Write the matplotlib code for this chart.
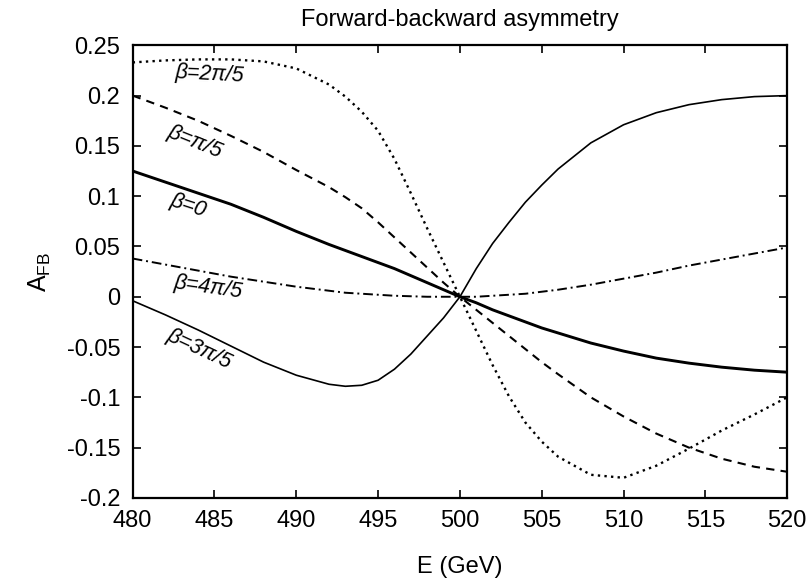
import numpy as np
import matplotlib
matplotlib.use('Agg')
import matplotlib.pyplot as plt

plt.rcParams['font.family'] = ['Liberation Sans', 'DejaVu Sans']
plt.rcParams['mathtext.fontset'] = 'custom'
plt.rcParams['mathtext.rm'] = 'Liberation Sans'
plt.rcParams['mathtext.it'] = 'Liberation Sans:italic'

# beam energy grid (GeV)
energy = [480, 482, 484, 486, 488, 490, 492, 493, 494, 495, 496, 497, 498, 499,
          500, 501, 502, 503, 504, 505, 506, 508, 510, 512, 514, 516, 518, 520]

afb_0 = [0.125, 0.114, 0.103, 0.092, 0.079, 0.065, 0.052, 0.046, 0.040, 0.034,
         0.028, 0.021, 0.014, 0.007, 0.0, -0.006, -0.013, -0.019, -0.025, -0.031,
         -0.036, -0.046, -0.054, -0.061, -0.066, -0.070, -0.073, -0.075]
afb_pi5 = [0.200, 0.188, 0.175, 0.160, 0.144, 0.126, 0.109, 0.099, 0.088, 0.074,
           0.059, 0.044, 0.029, 0.014, 0.0, -0.013, -0.026, -0.039, -0.052, -0.065,
           -0.077, -0.100, -0.119, -0.136, -0.150, -0.161, -0.169, -0.174]
afb_2pi5 = [0.233, 0.235, 0.236, 0.236, 0.234, 0.227, 0.211, 0.199, 0.184, 0.165,
            0.137, 0.103, 0.068, 0.034, 0.0, -0.034, -0.068, -0.099, -0.125, -0.144,
            -0.159, -0.177, -0.180, -0.168, -0.151, -0.133, -0.117, -0.100]
afb_3pi5 = [-0.004, -0.018, -0.033, -0.049, -0.065, -0.078, -0.087, -0.089, -0.088, -0.083,
            -0.072, -0.057, -0.039, -0.021, 0.0, 0.028, 0.053, 0.074, 0.094, 0.111,
            0.127, 0.153, 0.171, 0.183, 0.191, 0.196, 0.199, 0.200]
afb_4pi5 = [0.038, 0.032, 0.026, 0.020, 0.015, 0.010, 0.006, 0.004, 0.003, 0.002,
            0.001, 0.0005, 0.0, 0.0, 0.0, 0.0, 0.001, 0.002, 0.003, 0.005,
            0.007, 0.012, 0.018, 0.024, 0.031, 0.037, 0.043, 0.049]

fig = plt.figure(figsize=(8.09, 5.81), dpi=100)
ax = fig.add_axes([0.164, 0.143, 0.809, 0.779])

ax.plot(energy, afb_0, color='black', lw=2.1)
ax.plot(energy, afb_pi5, color='black', lw=1.5, dashes=(4, 3))
ax.plot(energy, afb_2pi5, color='black', lw=1.7, dashes=(1, 1.8))
ax.plot(energy, afb_3pi5, color='black', lw=1.2)
ax.plot(energy, afb_4pi5, color='black', lw=1.4, dashes=(5, 2, 1, 2))

# curve labels
lab = dict(fontsize=15.5, style='italic', color='black', ha='center', va='center')
ax.text(484.7, 0.221, r'β=2π/5', rotation=-3, **lab)
ax.text(483.8, 0.154, r'β=π/5', rotation=-22, **lab)
ax.text(483.4, 0.091, r'β=0', rotation=-18, **lab)
ax.text(484.6, 0.009, r'β=4π/5', rotation=-8, **lab)
ax.text(484.1, -0.052, r'β=3π/5', rotation=-25, **lab)

ax.set_xlim(480, 520)
ax.set_ylim(-0.2, 0.25)
ax.set_xticks(np.arange(480, 521, 5))
ax.set_yticks(np.arange(-0.2, 0.251, 0.05))
ax.set_yticklabels(['-0.2', '-0.15', '-0.1', '-0.05', '0', '0.05', '0.1', '0.15', '0.2', '0.25'])

ax.tick_params(direction='in', length=6, width=1.2, top=True, right=True,
               labelsize=17, pad=9)
for s in ax.spines.values():
    s.set_linewidth(1.6)

ax.set_title('Forward-backward asymmetry', fontsize=17, pad=14)
ax.set_xlabel('E (GeV)', fontsize=17, labelpad=17)
ax.set_ylabel(r'A$_{\rm FB}$', fontsize=18, labelpad=10)

fig.savefig('out.png', dpi=100)
